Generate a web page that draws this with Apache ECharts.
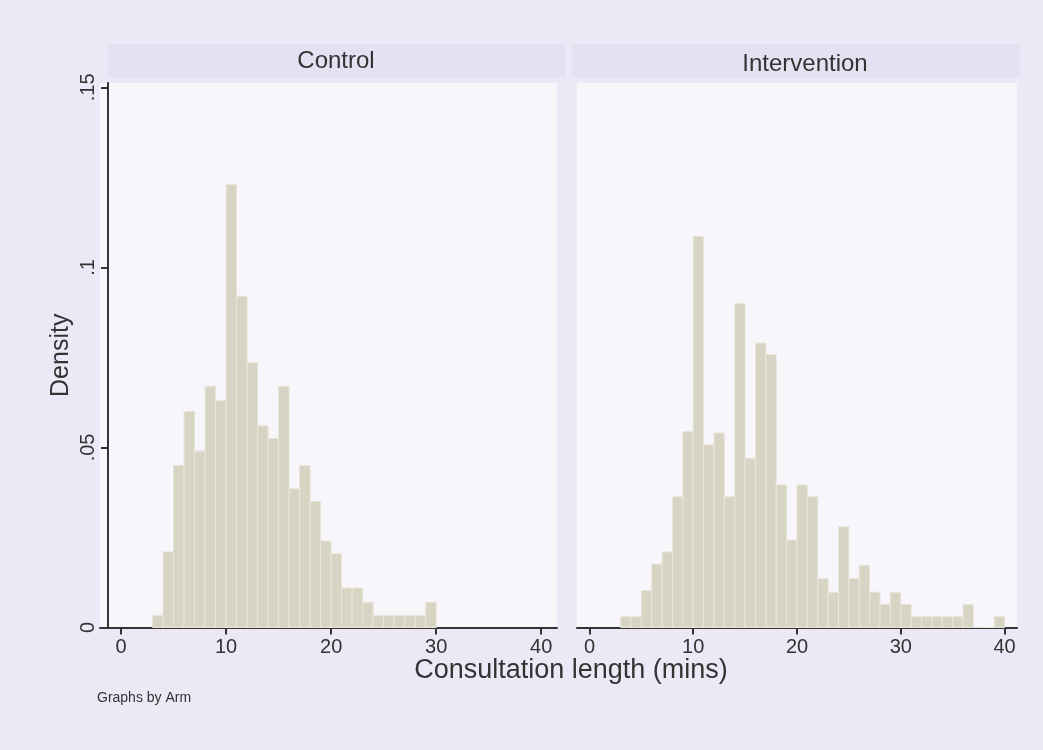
<!DOCTYPE html>
<html>
<head>
<meta charset="utf-8">
<script src="https://cdn.jsdelivr.net/npm/echarts@6/dist/echarts.min.js"></script>
<style>
    html, body { margin: 0; padding: 0; background: #ebe9f6; }
</style>
</head>
<body>
<div id="main" style="width: 1043px;height:750px;"></div>
<script type="text/javascript">
    // panel names (by Arm)
    var panels = ['Control', 'Intervention'];

    // lower edge of each 1-minute bin
    var controlBinStart = [3, 4, 5, 6, 7, 8, 9, 10, 11, 12, 13, 14, 15, 16, 17, 18, 19, 20, 21, 22, 23, 24, 25, 26, 27, 28, 29];
    var controlDensity = [0.0033, 0.021, 0.045, 0.060, 0.049, 0.067, 0.063, 0.123, 0.092, 0.0735,
        0.056, 0.0525, 0.067, 0.0385, 0.045, 0.035, 0.024, 0.0205, 0.011, 0.011,
        0.007, 0.0033, 0.0033, 0.0033, 0.0033, 0.0033, 0.007];

    var interventionBinStart = [3, 4, 5, 6, 7, 8, 9, 10, 11, 12, 13, 14, 15, 16, 17, 18, 19, 20, 21, 22,
        23, 24, 25, 26, 27, 28, 29, 30, 31, 32, 33, 34, 35, 36, 37, 38, 39];
    var interventionDensity = [0.003, 0.003, 0.0103, 0.0176, 0.021, 0.0363, 0.0544, 0.1086, 0.0507, 0.054,
        0.0363, 0.090, 0.047, 0.079, 0.0758, 0.0396, 0.0243, 0.0396, 0.0363, 0.0136,
        0.0098, 0.028, 0.0136, 0.0173, 0.0098, 0.0064, 0.0098, 0.0064, 0.003, 0.003,
        0.003, 0.003, 0.003, 0.0064, 0, 0, 0.003];

    var binWidth = 1;
    var xTicks = [0, 10, 20, 30, 40];
    var yTicks = [0, 0.05, 0.1, 0.15];

    var font = 'Liberation Sans';
    var axisColor = '#333338';

    function renderBar(params, api) {
        var start = api.value(0);
        var top = api.coord([start, api.value(1)]);
        var base = api.coord([start + binWidth, 0]);
        return {
            type: 'rect',
            shape: {x: top[0], y: top[1], width: base[0] - top[0], height: base[1] - top[1]},
            style: {fill: '#d8d4c4', stroke: '#e8e5da', lineWidth: 1}
        };
    }

    function xAxisFor(idx, min, max) {
        return {
            type: 'value',
            gridIndex: idx,
            min: min,
            max: max,
            axisLine: {onZero: false, lineStyle: {color: axisColor, width: 2}},
            axisTick: {length: 7, lineStyle: {color: axisColor, width: 2}, customValues: xTicks},
            axisLabel: {customValues: xTicks, fontFamily: font, fontSize: 20, color: '#333', margin: 10},
            splitLine: {show: false}
        };
    }

    var myChart = echarts.init(document.getElementById('main'));

    var option = {
        backgroundColor: '#ebe9f6',
        animation: false,
        title: [
            {text: panels[0], left: 331, top: 44, textAlign: 'center',
                textStyle: {fontFamily: font, fontSize: 24, fontWeight: 'normal', color: '#333'}},
            {text: panels[1], left: 800, top: 47, textAlign: 'center',
                textStyle: {fontFamily: font, fontSize: 24, fontWeight: 'normal', color: '#333'}},
            {text: 'Consultation length (mins)', left: 566, top: 652, textAlign: 'center',
                textStyle: {fontFamily: font, fontSize: 27, fontWeight: 'normal', color: '#333'}},
            {text: 'Graphs by Arm', left: 92, top: 686,
                textStyle: {fontFamily: font, fontSize: 14, fontWeight: 'normal', color: '#333'}}
        ],
        graphic: [
            {type: 'rect', z: -10, shape: {x: 108, y: 44, width: 457, height: 34}, style: {fill: '#e3e2f3'}},
            {type: 'rect', z: -10, shape: {x: 572, y: 44, width: 448, height: 34}, style: {fill: '#e3e2f3'}}
        ],
        grid: [
            {left: 100, width: 457, top: 83, height: 544.5, show: true, backgroundColor: '#f7f6fb', borderWidth: 0},
            {left: 577, width: 440, top: 83, height: 544.5, show: true, backgroundColor: '#f7f6fb', borderWidth: 0}
        ],
        xAxis: [
            xAxisFor(0, -2, 41.5),
            xAxisFor(1, -1.2, 41.2)
        ],
        yAxis: [
            {
                type: 'value',
                gridIndex: 0,
                min: 0,
                max: 0.1512,
                offset: -8,
                name: 'Density',
                nameLocation: 'middle',
                nameGap: 34,
                nameRotate: 90,
                nameTextStyle: {fontFamily: font, fontSize: 25, color: '#333'},
                axisLine: {show: true, onZero: false, lineStyle: {color: axisColor, width: 2}},
                axisTick: {show: true, length: 7, customValues: yTicks, lineStyle: {color: axisColor, width: 2}},
                axisLabel: {
                    customValues: yTicks,
                    rotate: 90, fontFamily: font, fontSize: 20, color: '#333', margin: 10,
                    formatter: function (v) { return v === 0 ? '0' : String(+v.toFixed(2)).replace(/^0/, ''); }
                },
                splitLine: {show: false}
            },
            {
                type: 'value', gridIndex: 1, min: 0, max: 0.1512,
                axisLine: {show: false}, axisTick: {show: false}, axisLabel: {show: false}, splitLine: {show: false}
            }
        ],
        series: [
            {
                name: panels[0], type: 'custom', xAxisIndex: 0, yAxisIndex: 0,
                renderItem: renderBar,
                data: controlBinStart.map(function (s, i) { return [s, controlDensity[i]]; })
            },
            {
                name: panels[1], type: 'custom', xAxisIndex: 1, yAxisIndex: 1,
                renderItem: renderBar,
                data: interventionBinStart.map(function (s, i) { return [s, interventionDensity[i]]; })
            }
        ]
    };

    myChart.setOption(option);
</script>
</body>
</html>
